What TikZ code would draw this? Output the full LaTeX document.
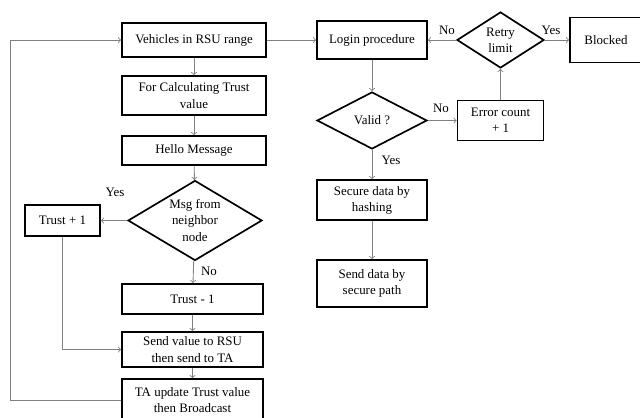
\documentclass[tikz,border=0pt]{standalone}
\usepackage{fontspec}
\setmainfont{Liberation Serif}
\usepackage{tikz}
\usetikzlibrary{arrows,shapes.geometric}

\begin{document}
\begin{tikzpicture}[x=0.025cm, y=-0.025cm,
		font=\fontsize{9.2}{11.5}\selectfont,
		box/.style={draw, line width=1.2pt, align=center, inner sep=1pt},
		decide/.style={draw, diamond, line width=1.2pt, align=center, inner sep=0pt},
		flow/.style={->, draw=gray, line width=0.6pt},
		lbl/.style={inner sep=1pt}]
			\useasboundingbox (0, 0) rectangle (640, 418);

			\node[box, minimum width=3.6cm, minimum height=0.85cm] (veh) at (194, 40) {Vehicles in RSU range};
			\node[box, minimum width=3.6cm, minimum height=0.975cm] (calc) at (194, 95.5) {For Calculating Trust\\value};
			\node[box, minimum width=3.6cm, minimum height=0.725cm] (hello) at (194, 150.5) {Hello Message};
			\node[decide, aspect=1.675, minimum width=3.35cm, minimum height=2cm] (msg) at (195, 220.5) {Msg from\\neighbor\\node};
			\node[box, minimum width=1.875cm, minimum height=0.775cm] (plus) at (62.5, 220.5) {Trust + 1};
			\node[box, minimum width=3.525cm, minimum height=0.75cm] (minus) at (192.5, 299) {Trust - 1};
			\node[box, minimum width=3.525cm, minimum height=0.875cm] (send) at (192.5, 349.5) {Send value to RSU\\then send to TA};
			\node[box, minimum width=3.525cm, minimum height=1.05cm] (taup) at (192.5, 400) {TA update Trust value\\then Broadcast};
			\coordinate (loop) at (10, 400);

			\node[box, minimum width=2.75cm, minimum height=0.95cm] (login) at (372, 40) {Login procedure};
			\node[decide, aspect=1.55, minimum width=2.175cm, minimum height=1.4cm] (retry) at (500.5, 40) {Retry\\limit};
			\node[box, minimum width=1.8cm, minimum height=1.125cm] (blocked) at (606, 40) {Blocked};
			\node[decide, aspect=1.93, minimum width=2.75cm, minimum height=1.425cm] (valid) at (372, 120.5) {Valid ?};
			\node[box, minimum width=2.15cm, minimum height=1cm] (err) at (500.5, 120.5) {Error count\\+ 1};
			\node[box, minimum width=2.75cm, minimum height=1cm] (secure) at (372, 200) {Secure data by\\hashing};
			\node[box, minimum width=2.75cm, minimum height=1.175cm] (path) at (372, 283.5) {Send data by\\secure path};

			\node[lbl] (yes1) at (115, 192) {Yes};
			\node[lbl] (no1) at (209, 271) {No};
			\node[lbl] (no2) at (441, 108) {No};
			\node[lbl] (yes2) at (391, 160) {Yes};
			\node[lbl] (no3) at (447, 30) {No};
			\node[lbl] (yes3) at (551, 30) {Yes};

			\draw [flow] (veh) to (login);
			\draw [flow] (veh) to (calc);
			\draw [flow] (calc) to (hello);
			\draw [flow] (hello) to (msg);
			\draw [flow] (msg.west) to (plus.east);
			\draw [flow] (msg) to (minus);
			\draw [flow] (minus) to (send);
			\draw [flow] (plus.south) |- (send.west);
			\draw [flow] (send) to (taup);
			\draw [flow] (taup.west) -- (loop) |- (veh.west);

			\draw [flow] (login) to (valid);
			\draw [flow] (valid.east) to (err.west);
			\draw [flow] (valid) to (secure);
			\draw [flow] (secure) to (path);
			\draw [flow] (err) to (retry);
			\draw [flow] (retry.west) to (login.east);
			\draw [flow] (retry.east) to (blocked.west);
		\end{tikzpicture}
\end{document}
